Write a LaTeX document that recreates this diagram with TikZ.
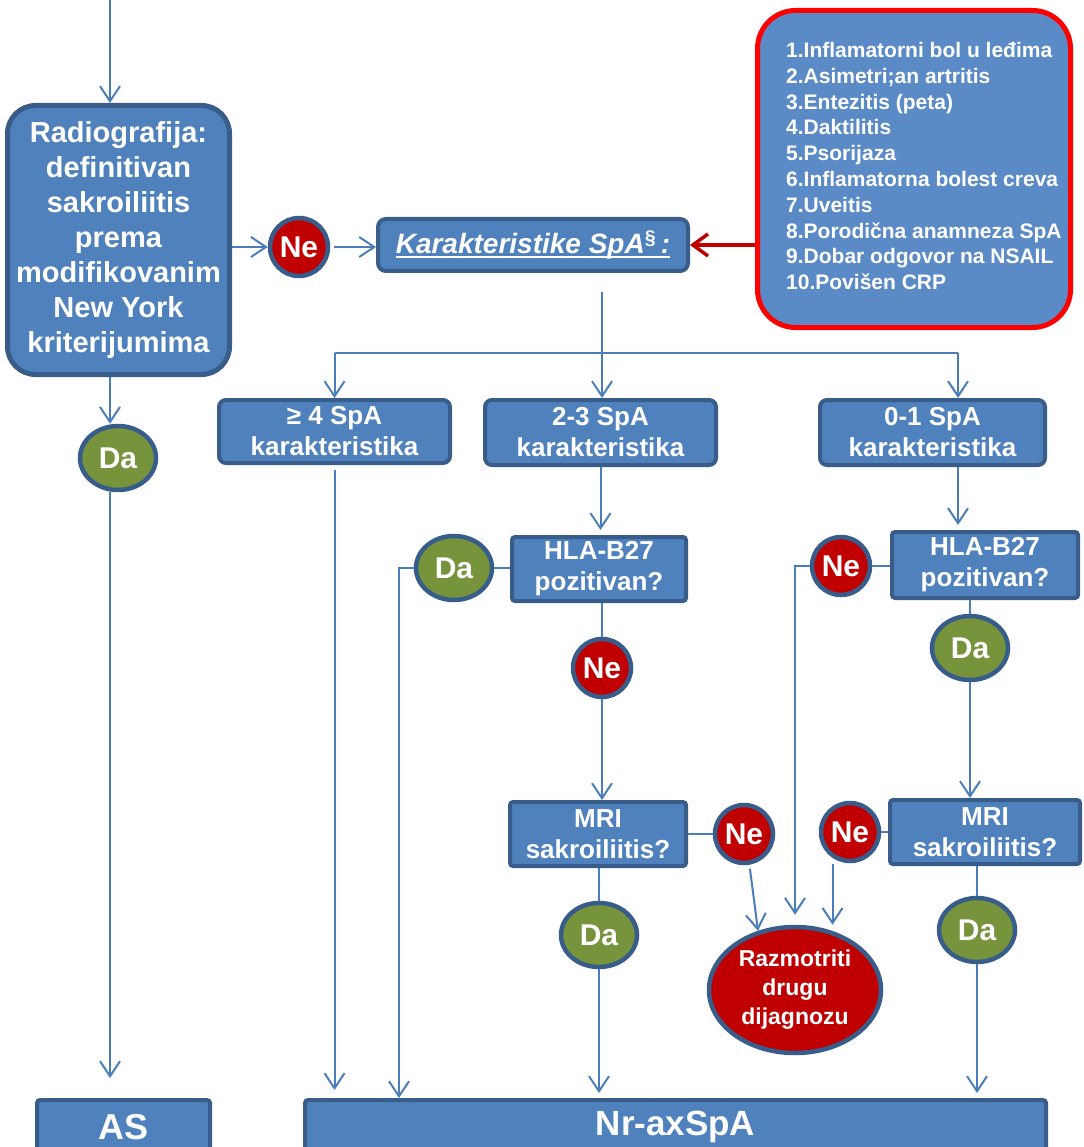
\documentclass[tikz,border=0pt]{standalone}
\usepackage{fontspec}
\setmainfont{Liberation Sans}
\usetikzlibrary{positioning,arrows.meta,shapes.geometric}
\usepackage{xcolor}
\definecolor{boxblue}{HTML}{4F81BD}
\definecolor{edgeblue}{HTML}{385D8A}
\definecolor{lineblue}{HTML}{4A7EBB}
\definecolor{listblue}{HTML}{5B8BC7}
\definecolor{nered}{HTML}{C00000}
\definecolor{dagreen}{HTML}{77933C}

\newcommand\spaline[1]{\setbox0\hbox{#1}\rlap{\rule[-5pt]{\wd0}{2.2pt}}\box0}

\tikzset{
  sbox/.style={draw=edgeblue,fill=boxblue,line width=4pt,text=white,align=center,inner sep=0pt,
    rounded corners=3pt,font=\fontsize{26}{31}\selectfont\bfseries},
  nebubble/.style={circle,draw=edgeblue,fill=nered,line width=4.5pt,text=white,inner sep=0pt,
    minimum size=58pt,font=\fontsize{30}{36}\selectfont\bfseries},
  dabubble/.style={ellipse,draw=edgeblue,fill=dagreen,line width=4.5pt,text=white,inner sep=0pt,
    minimum width=76pt,minimum height=64pt,font=\fontsize{30}{36}\selectfont\bfseries},
  flow/.style={lineblue,line width=2pt},
  flowarrow/.style={flow,-{Straight Barb[length=15pt,width=20pt]}},
  listarrow/.style={nered,line width=3.5pt,-{Straight Barb[length=15pt,width=22pt]}}
}

\begin{document}
\begin{tikzpicture}[x=1pt,y=-1pt]
      \clip (0,0) rectangle (1083,1147);
      % left column
      \node[sbox,rounded corners=28pt,line width=5pt,minimum width=222pt,minimum height=269pt,
        font=\fontsize{29}{35}\selectfont\bfseries] (radio) at (118.5,240)
        {Radiografija:\\definitivan\\sakroiliitis\\prema\\modifikovanim\\New York\\kriterijumima};
      \node[nebubble] (ne1) at (299,247) {Ne};
      \node[sbox,rounded corners=8pt,minimum width=310pt,minimum height=52pt,
        font=\fontsize{28}{34}\selectfont\bfseries\itshape] (karak) at (533,245)
        {\spaline{Karakteristike SpA\textsuperscript{\upshape\S}\,:}};
      \node[draw=red,fill=listblue,line width=5pt,rounded corners=38pt,minimum width=313pt,
        minimum height=317pt] (spalist) at (914,169) {};
      \node[anchor=west,text=white,align=left,inner sep=0pt,
        font=\fontsize{21}{25.8}\selectfont\bfseries] (spatext) at (786,166)
        {1.Inflamatorni bol u leđima\\2.Asimetri;an artritis\\3.Entezitis (peta)\\4.Daktilitis\\
         5.Psorijaza\\6.Inflamatorna bolest creva\\7.Uveitis\\8.Porodična anamneza SpA\\
         9.Dobar odgovor na NSAIL\\10.Povišen CRP};
      \node[dabubble] (da0) at (118,458) {Da};
      % SpA counts
      \node[sbox,rounded corners=7pt,minimum width=231pt,minimum height=63pt] (four) at (334.5,431.5)
        {≥ 4 SpA\\karakteristika};
      \node[sbox,rounded corners=7pt,minimum width=231pt,minimum height=65pt] (two) at (600.5,432.5)
        {2-3 SpA\\karakteristika};
      \node[sbox,rounded corners=7pt,minimum width=225pt,minimum height=65pt] (zero) at (932.5,432.5)
        {0-1 SpA\\karakteristika};
      % 2-3 branch
      \node[sbox,minimum width=174pt,minimum height=64pt] (hla1) at (599,569) {HLA-B27\\pozitivan?};
      \node[dabubble] (da1) at (454,568) {Da};
      \node[nebubble] (ne2) at (602,668) {Ne};
      \node[sbox,minimum width=176pt,minimum height=64pt] (mri1) at (598,834) {MRI\\sakroiliitis?};
      \node[nebubble] (ne3) at (744,834) {Ne};
      \node[dabubble] (da2) at (599,935) {Da};
      \node[ellipse,draw=edgeblue,fill=nered,line width=4.5pt,text=white,inner sep=0pt,align=center,
        minimum width=172pt,minimum height=126pt,font=\fontsize{23}{29}\selectfont\bfseries] (razm)
        at (795,990) {Razmotriti\\drugu\\dijagnozu};
      % 0-1 branch
      \node[sbox,minimum width=186pt,minimum height=66pt] (hla2) at (985,565) {HLA-B27\\pozitivan?};
      \node[nebubble] (ne4) at (841,566) {Ne};
      \node[dabubble] (da3) at (970,648) {Da};
      \node[sbox,minimum width=190pt,minimum height=64pt] (mri2) at (985,832) {MRI\\sakroiliitis?};
      \node[nebubble] (ne5) at (850,832) {Ne};
      \node[dabubble] (da4) at (977,930) {Da};
      % outcomes
      \node[sbox,minimum width=173pt,minimum height=54pt,font=\fontsize{36}{40}\selectfont\bfseries]
        (as) at (123.5,1127) {AS};
      \node[sbox,minimum width=741pt,minimum height=54pt,font=\fontsize{35}{40}\selectfont\bfseries]
        (nr) at (675.5,1127) {Nr-axSpA};

      \coordinate (lx) at (110,0);
      \coordinate (split) at (602,353);
      \coordinate (zsplit) at (958,353);
      \coordinate (dleft) at (399,0);

      \draw[flowarrow] (lx) -- (lx |- radio.north);
      \draw[flowarrow] (lx |- radio.south) -- (lx |- da0.north);
      \draw[flowarrow,shorten >=20pt] (lx |- da0.south) -- (lx |- as.north);
      \draw[flowarrow] (radio.east |- ne1) -- (ne1.west);
      \draw[flowarrow,shorten <=4pt] (ne1.east) -- (karak.west |- ne1);
      \draw[listarrow] (spalist.west |- karak) -- (karak.east);
      % split into three
      \draw[flowarrow,shorten <=19pt] (karak.south -| split) -- (two.north -| split);
      \draw[flow] (split -| four.north) -- (zsplit);
      \draw[flowarrow] (split -| four.north) -- (four.north);
      \draw[flowarrow] (zsplit) -- (zsplit |- zero.north);
      \draw[flowarrow,shorten <=5pt,shorten >=8pt] (four.south) -- (four.south |- nr.north);
      % 2-3 branch
      \draw[flowarrow,shorten >=5pt] (two.south) -- (two.south |- hla1.north);
      \draw[flow] (hla1.west |- da1) -- (da1.east);
      \draw[flowarrow] (da1.west) -| (dleft |- nr.north);
      \draw[flow] (hla1.south -| ne2) -- (ne2.north);
      \draw[flowarrow] (ne2.south) -- (ne2.south |- mri1.north);
      \draw[flow] (mri1.east |- ne3) -- (ne3.west);
      \draw[flowarrow,shorten <=4pt] (ne3.-80) -- (razm.122);
      \draw[flow] (mri1.south -| da2) -- (da2.north);
      \draw[flowarrow,shorten >=5pt] (da2.south) -- (da2.south |- nr.north);
      % 0-1 branch
      \draw[flowarrow,shorten >=5pt] (zero.south -| zsplit) -- (hla2.north -| zsplit);
      \draw[flow] (hla2.west |- ne4) -- (ne4.east);
      \draw[flowarrow,shorten >=10pt] (ne4.west) -| (razm.north);
      \draw[flow] (hla2.south -| da3) -- (da3.north);
      \draw[flowarrow] (da3.south) -- (da3.south |- mri2.north);
      \draw[flow] (mri2.west |- ne5) -- (ne5.east);
      \draw[flowarrow,shorten <=6pt] (ne5.-124) -- (ne5.-124 |- razm.north);
      \draw[flow] (mri2.south -| da4) -- (da4.north);
      \draw[flowarrow,shorten >=5pt] (da4.south) -- (da4.south |- nr.north);
\end{tikzpicture}
\end{document}
